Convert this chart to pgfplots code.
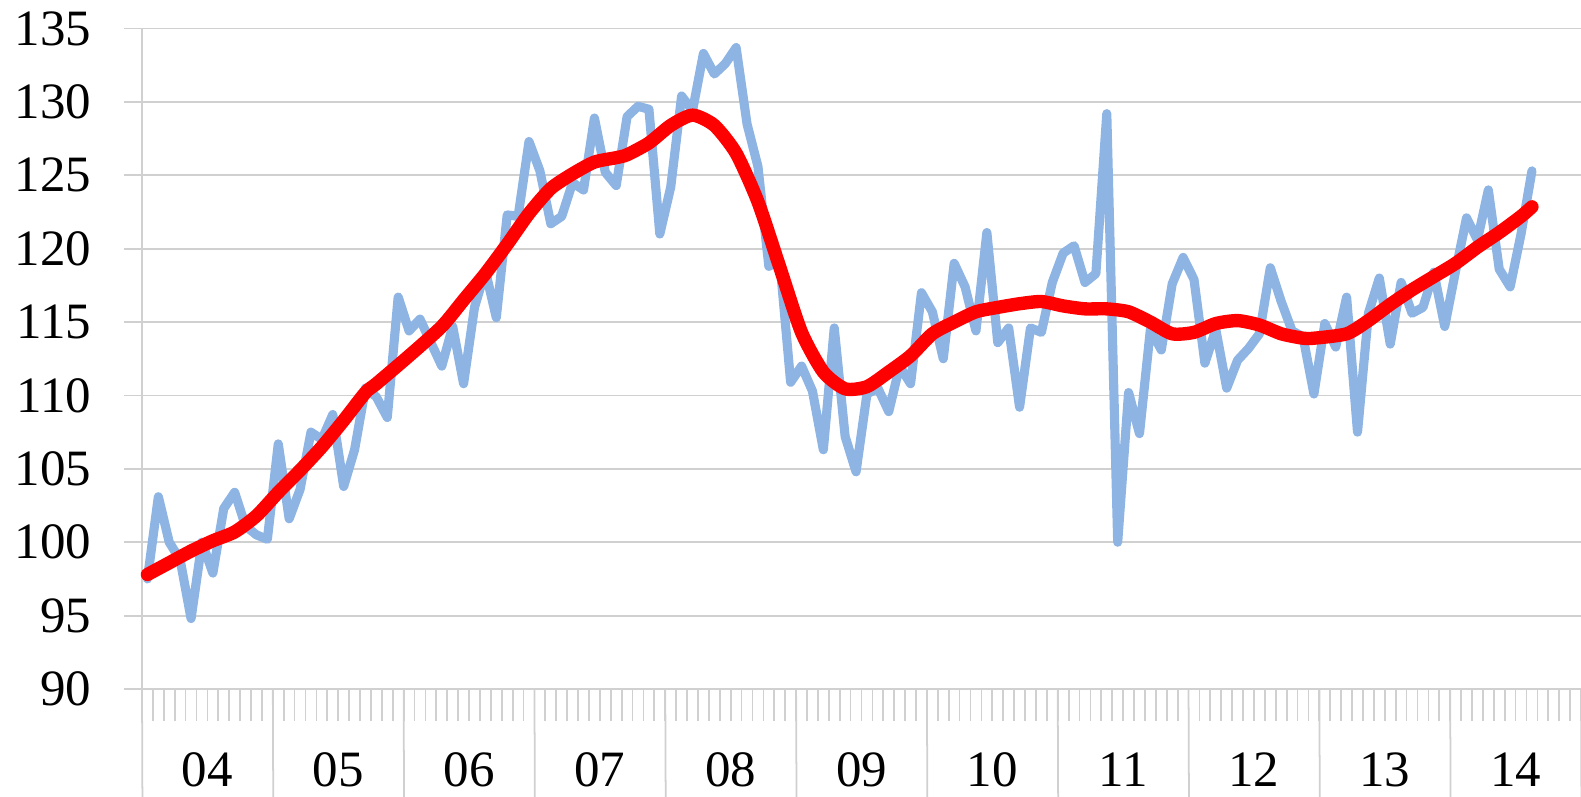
\documentclass[border=0pt]{standalone}
\usepackage{pgfplots}
\pgfplotsset{compat=1.18}
\usepackage{pgfplotstable}
\usepackage{fontspec}
\setmainfont{Liberation Serif}
\definecolor{lblue}{RGB}{142,180,227}
\definecolor{gridc}{RGB}{208,208,208}
\pgfplotstableread{
v
97.5
103.1
100.0
98.8
94.8
100.0
97.9
102.3
103.4
101.1
100.5
100.2
106.7
101.6
103.6
107.5
107.0
108.7
103.8
106.3
110.5
109.9
108.5
116.7
114.4
115.2
113.6
112.0
114.7
110.8
116.0
118.5
115.3
122.3
122.2
127.3
125.3
121.7
122.2
124.5
124.0
128.9
125.2
124.3
129.0
129.7
129.5
121.0
124.2
130.4
129.4
133.3
131.9
132.6
133.7
128.5
125.6
118.8
119.2
110.9
112.0
110.3
106.3
114.6
107.2
104.8
110.1
110.5
108.9
112.0
110.8
117.0
115.7
112.5
119.0
117.4
114.4
121.1
113.6
114.6
109.2
114.6
114.3
117.7
119.7
120.2
117.7
118.3
129.2
100.0
110.2
107.4
114.5
113.1
117.6
119.4
117.9
112.2
114.5
110.5
112.4
113.2
114.2
118.7
116.4
114.4
114.0
110.1
114.9
113.3
116.7
107.5
115.6
118.0
113.5
117.7
115.6
116.0
118.4
114.7
118.5
122.1
120.6
124.0
118.6
117.4
121.0
125.3
}\bluedata
\begin{document}
\begin{tikzpicture}
\begin{axis}[
  scale only axis, width=143.9mm, height=66.05mm,
  xmin=-0.5, xmax=131.5, ymin=90, ymax=135,
  axis x line=bottom, axis y line=left,
  axis line style={draw=gridc, line width=0.6pt, -},
  ytick={90,95,...,135},
  ymajorgrids, major grid style={draw=gridc, line width=0.5pt},
  tick align=outside, major tick length=1.8mm, minor tick length=3.2mm,
  tick style={draw=gridc, line width=0.5pt},
  xtick={5.5,17.5,...,125.5},
  xticklabels={04,05,06,07,08,09,10,11,12,13,14},
  minor xtick={-0.5,0.5,...,131.5},
  clip=false,
  /pgf/number format/assume math mode=true,
  ticklabel style={font=\fontsize{14.5pt}{17pt}\selectfont},
  yticklabel style={anchor=east, inner sep=0pt, xshift=-3.2mm},
  xticklabel style={anchor=base, inner sep=0pt, yshift=-7.9mm},
]
\pgfplotsinvokeforeach{-0.5,11.5,...,131.5}{\draw[gridc, line width=0.5pt] (axis cs:#1,90) -- ++(0,-10.8mm);}
\addplot[lblue, line width=2.6pt, line join=round, line cap=round] table[x expr=\coordindex, y=v] {\bluedata};
\addplot[red, line width=3.8pt, line join=round, line cap=round, smooth, tension=0.4] coordinates {
(0,97.8) (2,98.6) (4,99.4) (6,100.1) (8,100.7) (10,101.8) (12,103.4) (14,104.9) (16,106.5) (18,108.3) (20,110.2) (21,110.8) (24,112.7) (27,114.7) (29,116.5) (31,118.3) (33,120.3) (35,122.4) (37,124.1) (39,125.1) (41,125.9) (43,126.2) (44,126.4) (46,127.2) (48,128.4) (50,129.1) (52,128.4) (54,126.5) (56,123.2) (58,118.75) (60,114.3) (62,111.6) (64,110.45) (66,110.6) (68,111.6) (70,112.7) (72,114.2) (74,115.0) (76,115.7) (78,116.0) (80,116.25) (82,116.4) (84,116.1) (86,115.9) (88,115.9) (90,115.7) (92,115.0) (94,114.2) (96,114.3) (98,114.9) (100,115.1) (102,114.8) (104,114.2) (106,113.9) (107,113.9) (110,114.2) (112,115.1) (114,116.2) (116,117.2) (118,118.1) (120,119.0) (122,120.1) (124,121.1) (126,122.2) (127,122.85)
};
\end{axis}
\pgfresetboundingbox
\useasboundingbox ([xshift=-14.2mm,yshift=-10.8mm]current axis.south west) rectangle ([yshift=2.85mm]current axis.north east);
\end{tikzpicture}
\end{document}
